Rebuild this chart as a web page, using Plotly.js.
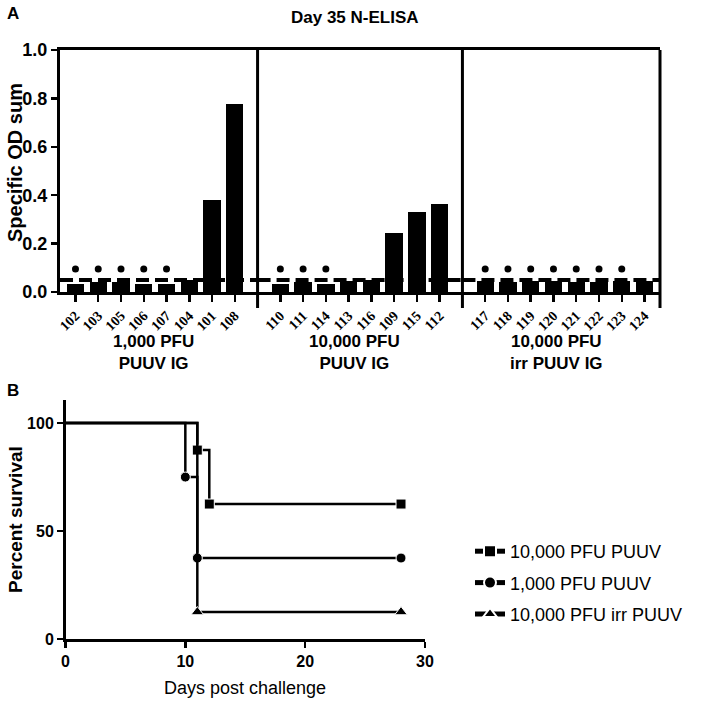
<!DOCTYPE html>
<html>
<head>
<meta charset="utf-8">
<script src="https://cdn.plot.ly/plotly-3.0.1.min.js"></script>
<style>
  body { margin: 0; background: #fff; }
  #chart { width: 708px; height: 701px; }
</style>
</head>
<body>
<div id="chart"></div>
<script>
// panel A: day 35 N-ELISA, one group per challenge
const animalsLow = ['102', '103', '105', '106', '107', '104', '101', '108'];
const odLow = [0.035, 0.04, 0.04, 0.035, 0.035, 0.05, 0.38, 0.775];
const dotsLow = [1, 1, 1, 1, 1, 0, 0, 0];

const animalsHigh = ['110', '111', '114', '113', '116', '109', '115', '112'];
const odHigh = [0.035, 0.04, 0.035, 0.045, 0.05, 0.243, 0.332, 0.365];
const dotsHigh = [1, 1, 1, 0, 0, 0, 0, 0];

const animalsIrr = ['117', '118', '119', '120', '121', '122', '123', '124'];
const odIrr = [0.045, 0.04, 0.045, 0.045, 0.04, 0.04, 0.045, 0.045];
const dotsIrr = [1, 1, 1, 1, 1, 1, 1, 0];

const groupNames = ['1,000 PFU<br>PUUV IG', '10,000 PFU<br>PUUV IG', '10,000 PFU<br>irr PUUV IG'];
const cutoff = 0.05;
const dotLevel = 0.095;

// panel B: survival
const daysHigh = [0, 11, 12, 28];
const survHigh = [100, 87.5, 62.5, 62.5];
const daysLow = [0, 10, 11, 28];
const survLow = [100, 75, 37.5, 37.5];
const daysIrr = [0, 11, 28];
const survIrr = [100, 12.5, 12.5];

const W = 708, H = 701;
const px = v => v / W;
const py = v => 1 - v / H;
const FONT = 'Arial, Liberation Sans';

const groups = [
    {animals: animalsLow, od: odLow, dots: dotsLow},
    {animals: animalsHigh, od: odHigh, dots: dotsHigh},
    {animals: animalsIrr, od: odIrr, dots: dotsIrr},
];
const slot = 9;
const edge = 0.68;
const xMin = -edge, xMax = 2 * slot + 7 + edge;
const aLeft = 60, aRight = 660, aTop = 50, aBottom = 292;
const xToPx = x => aLeft + (x - xMin) / (xMax - xMin) * (aRight - aLeft);

const traces = [];
const tickvals = [], ticktext = [];
const shapes = [];
const annotations = [];

function label(text, x, y, size, extra) {
    return Object.assign({
        text: text, x: px(x), y: py(y), xref: 'paper', yref: 'paper',
        xanchor: 'center', yanchor: 'middle', showarrow: false,
        font: {family: FONT, size: size, color: '#000'},
    }, extra || {});
}

groups.forEach((g, gi) => {
    const xs = g.animals.map((a, i) => gi * slot + i);
    xs.forEach((x, i) => { tickvals.push(x); ticktext.push(g.animals[i]); });
    traces.push({
        type: 'bar', x: xs, y: g.od, width: 0.76,
        marker: {color: '#000'}, showlegend: false, hoverinfo: 'skip',
        xaxis: 'x', yaxis: 'y',
    });
    const dx = xs.filter((x, i) => g.dots[i]);
    traces.push({
        type: 'scatter', mode: 'markers', x: dx, y: dx.map(() => dotLevel),
        marker: {color: '#000', size: 7, symbol: 'circle'},
        showlegend: false, hoverinfo: 'skip', xaxis: 'x', yaxis: 'y',
    });
    const x0 = gi === 0 ? xMin : gi * slot - 1;
    const x1 = gi === 2 ? xMax : (gi + 1) * slot - 1;
    shapes.push({
        type: 'line', xref: 'x', yref: 'y', x0: x0, x1: x1, y0: cutoff, y1: cutoff,
        line: {color: '#000', width: 4, dash: '13px,6px'},
    });
    shapes.push({
        type: 'line', xref: 'paper', yref: 'paper',
        x0: px(xToPx(x1)), x1: px(xToPx(x1)), y0: py(308), y1: py(aTop),
        line: {color: '#000', width: 3},
    });
    const cx = (xToPx(x0) + xToPx(x1)) / 2;
    annotations.push(label('<b>' + groupNames[gi] + '</b>', cx - 5, 352, 17));
});

// marker.size given as an array makes plotly treat it as bubbles (opacity 0.7), so force 1
const survStyle = {type: 'scatter', mode: 'lines+markers', line: {color: '#000', width: 2.5, shape: 'hv'},
    xaxis: 'x2', yaxis: 'y2', hoverinfo: 'skip'};
traces.push(Object.assign({}, survStyle, {
    name: '10,000 PFU PUUV', x: daysHigh, y: survHigh, legendgroup: 'a',
    marker: {color: '#000', opacity: 1, symbol: 'square', size: daysHigh.map((d, i) => i ? 10 : 0)},
}));
traces.push(Object.assign({}, survStyle, {
    name: '1,000 PFU PUUV', x: daysLow, y: survLow, legendgroup: 'b',
    marker: {color: '#000', opacity: 1, symbol: 'circle', size: daysLow.map((d, i) => i ? 10 : 0)},
}));
traces.push(Object.assign({}, survStyle, {
    name: '10,000 PFU irr PUUV', x: daysIrr, y: survIrr, legendgroup: 'c',
    marker: {color: '#000', opacity: 1, symbol: 'triangle-up', size: daysIrr.map((d, i) => i ? 11 : 0)},
}));

annotations.push(
    label('<b>Day 35 N-ELISA</b>', 355, 17, 17),
    label('<b>A</b>', 13, 13, 17),
    label('<b>B</b>', 13, 390, 17),
    label('<b>Specific OD sum</b>', 15, 163, 20, {textangle: -90}),
    label('<b>Percent survival</b>', 15, 520, 19, {textangle: -90}),
    label('Days post challenge', 245, 688, 18)
);

const layout = {
    width: W, height: H,
    margin: {l: 0, r: 0, t: 0, b: 0},
    paper_bgcolor: '#fff', plot_bgcolor: '#fff',
    font: {family: FONT, color: '#000'},
    bargap: 0,
    xaxis: {
        domain: [px(aLeft), px(aRight)], anchor: 'y', range: [xMin, xMax],
        tickvals: tickvals, ticktext: ticktext, tickangle: -45,
        tickfont: {family: 'Liberation Serif, DejaVu Serif', size: 14, weight: 'bold'},
        ticks: 'outside', ticklen: 7, tickwidth: 2.5, tickcolor: '#000',
        showline: true, linewidth: 3, linecolor: '#000', mirror: true,
        showgrid: false, zeroline: false, fixedrange: true,
    },
    yaxis: {
        domain: [py(aBottom), py(aTop)], anchor: 'x', range: [0, 1],
        tickvals: [0, 0.2, 0.4, 0.6, 0.8, 1.0], tickformat: '.1f',
        tickfont: {size: 18, weight: 'bold'},
        ticks: 'outside', ticklen: 6, tickwidth: 2.5, tickcolor: '#000',
        showline: true, linewidth: 3, linecolor: '#000',
        showgrid: false, zeroline: false, fixedrange: true,
    },
    xaxis2: {
        domain: [px(65.5), px(425)], anchor: 'y2', range: [0, 30],
        tickvals: [0, 10, 20, 30], tickfont: {size: 16, weight: 'bold'},
        ticks: 'outside', ticklen: 6, tickwidth: 2.5, tickcolor: '#000',
        showline: true, linewidth: 2.5, linecolor: '#000',
        showgrid: false, zeroline: false, fixedrange: true,
    },
    yaxis2: {
        domain: [py(639), py(400)], anchor: 'x2', range: [0, 110.7],
        tickvals: [0, 50, 100], tickfont: {size: 16, weight: 'bold'},
        ticks: 'outside', ticklen: 6, tickwidth: 2.5, tickcolor: '#000',
        showline: true, linewidth: 2.5, linecolor: '#000',
        showgrid: false, zeroline: false, fixedrange: true,
    },
    showlegend: true,
    legend: {
        x: px(470), y: py(533), xanchor: 'left', yanchor: 'top',
        traceorder: 'grouped', tracegroupgap: 5, itemsizing: 'constant',
        font: {family: FONT, size: 18, color: '#000'},
        bgcolor: 'rgba(0,0,0,0)',
    },
    shapes: shapes,
    annotations: annotations,
};

Plotly.newPlot('chart', traces, layout, {displayModeBar: false, staticPlot: true});
</script>
</body>
</html>
